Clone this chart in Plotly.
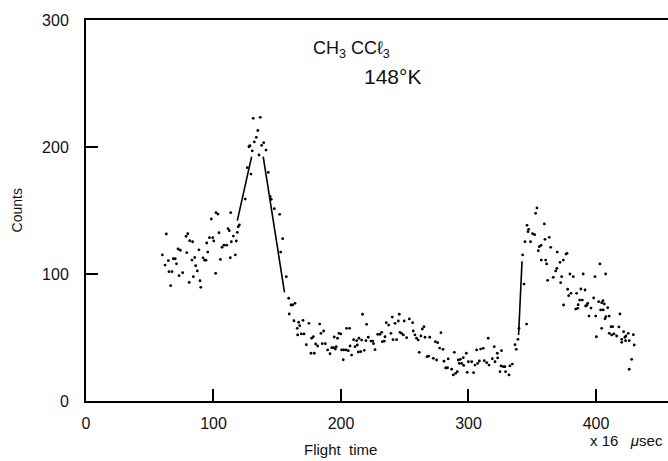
import plotly.graph_objects as go

# ---- data ----
x_pts = [59.9, 62, 63, 64.6, 65.1, 66.4, 67.5, 68.5, 70, 71, 72.2, 73, 74, 75.8, 78.5, 79, 79.8, 81, 81.3,
         83.1, 83.6, 84.2, 85.3, 86, 87.3, 88.6, 89.4, 90, 91.8, 93.1, 94.1, 94.7, 95.5, 96.8, 98.3, 99.4,
         100.2, 101.7, 102, 103.5, 104.3, 105.4, 106.7, 108.2, 110.3, 111.4, 112.4, 113.2, 113.5, 114,
         115.6, 117.1, 117.9, 118.7, 119.4, 120.3, 124.9, 126.5, 127.8, 128.6, 129.4, 130.4, 131.2, 132,
         133.6, 134.8, 135.7, 136.7, 137.8, 139.4, 141.2, 143, 144.5, 145.3, 147.7, 151.9, 152.7, 154.3,
         157.1, 159, 159.4, 160.8, 162.1, 163.1, 163.9, 165.7, 166, 166.8, 167.6, 168.9, 170.2, 171, 172.8,
         174.9, 176.5, 177, 178.3, 179.1, 180.1, 181.7, 183.3, 184.3, 185.3, 186.4, 187.7, 189.5, 191.4,
         192.7, 194.3, 194.7, 195.6, 196.3, 197.3, 198.4, 199.8, 200.5, 201.8, 202.1, 203.9, 204.4, 205.7,
         206.8, 207.1, 208.3, 209.9, 211, 212.3, 212.8, 213.6, 214.1, 215.4, 216.2, 216.9, 218.3, 219.6,
         220.1, 221.4, 223.5, 224.9, 225.5, 226.7, 228.8, 230.6, 231.9, 232.4, 234, 234.5, 235.5, 237.4,
         239.2, 240.2, 240.8, 242.4, 243.6, 245, 245.7, 246.3, 247.5, 248.9, 249.6, 251.5, 253.6, 256.2,
         256.7, 258, 259.3, 260.6, 261.4, 262.7, 263.8, 265.1, 265.9, 267.5, 268.8, 269.6, 272.4, 274,
         275, 275.8, 277.4, 278.4, 280, 280.8, 282.1, 283.6, 284.1, 286.8, 288.1, 288.9, 289.9, 291.2,
         292, 292.8, 293.6, 294.7, 295.9, 296.2, 298.3, 299, 299.9, 302.5, 304, 305.1, 306.4, 307.2,
         308.5, 309.5, 311.6, 312.4, 314.3, 315.5, 316.1, 318.7, 320.2, 320.8, 322.6, 322.9, 324.7, 325.5,
         325.9, 327.3, 328.6, 329.1, 331.8, 332.5, 334.4, 336.5, 337.5, 338.8, 339.6, 342.5, 343.6, 344.3,
         345.6, 345.9, 346.7, 347.2, 348.7, 350.3, 351.9, 352.7, 353.7, 354.8, 355.5, 356.9, 357.1, 359.5,
         360.0, 360.5, 361.3, 362.1, 363.4, 364.5, 366.5, 368.4, 369.4, 369.6, 371.8, 372.3, 373.1, 374.4,
         374.6, 376.5, 377.3, 377.8, 378.6, 379.6, 380.4, 382.2, 384.1, 384.8, 385.6, 386, 387.2, 388.2,
         389.3, 390, 391.4, 391.9, 392.9, 393.5, 394.5, 396.1, 398.2, 399.2, 399.8, 400.3, 402.1, 403.1,
         403.7, 404.5, 404.5, 405.5, 405.7, 406.5, 407.1, 407.6, 407.8, 409.2, 410.4, 410.4, 411.8, 412.3,
         413.1, 414.1, 416.2, 418, 418.8, 420.2, 420.2, 421.7, 422.7, 423.2, 423.5, 425.3, 426.1, 426.1,
         428, 429.3, 430]
y_pts = [115, 107, 131.5, 110.5, 101.8, 90.8, 101.8, 112, 112, 108, 119.7, 98.7, 118.7, 101, 129.7, 116.8,
         131.7, 93.4, 126.2, 111, 125.4, 97.9, 113, 106.5, 102.4, 119, 94.7, 89.5, 112.7, 110.9, 110.9,
         124.4, 117.3, 128.6, 143.3, 128.6, 126, 100.5, 148.3, 147.2, 132.5, 111.5, 121, 122.7, 122.7,
         135.7, 134.1, 112.8, 148.3, 125.4, 129.9, 115, 126, 132.8, 137.3, 138.6, 159, 183.7, 200.2, 201,
         178.7, 197, 222.6, 204, 207.6, 213, 193.7, 223.4, 201.3, 203.4, 197.6, 180, 160.9, 158.8, 151.4,
         147, 117.3, 127.8, 97.9, 80.9, 68.5, 75.6, 75.6, 63.2, 76.9, 57.2, 52, 62, 59.3, 52.8, 63.5, 52.8,
         44.3, 61.2, 37.6, 49.4, 50.6, 37.6, 44.9, 43.3, 60.6, 53.3, 45.1, 55.1, 45.1, 40.2, 37.2, 42, 42,
         50.4, 40.9, 42.8, 49.4, 53.3, 52.8, 40.2, 32.5, 40.2, 40.2, 57.2, 39.6, 57.2, 43.3, 36.2, 48.3,
         42.8, 47.5, 44.1, 38.6, 49.4, 38.8, 48, 68.3, 39.9, 47.5, 60.4, 50.2, 47.2, 47.2, 45.1, 40.4,
         52.5, 52.5, 54.1, 46.7, 47.2, 50.6, 61.7, 59.8, 53.3, 66.1, 48.3, 61.2, 48.3, 63, 68.3, 54.1,
         53.3, 52, 63, 49.9, 64.6, 61.7, 55.1, 52, 49.4, 48, 38.3, 51.2, 56.7, 58.5, 50.2, 34.9, 35.4,
         50.2, 33.6, 46.7, 32.3, 45.9, 41.7, 53.8, 40.7, 31.3, 26, 26.2, 33.1, 25, 20.5, 38.3, 21.8, 23.1,
         32.3, 29.6, 32.8, 29.6, 34.1, 28, 37.6, 22.6, 30.9, 30.9, 22.3, 28.3, 40.2, 29.6, 31.5, 40.9,
         41.5, 31.7, 30.2, 49.4, 28.3, 33.3, 42.8, 30.9, 37.6, 33.9, 23.1, 27.6, 39.6, 27, 27, 23.1, 20.5,
         27.6, 29.1, 44.3, 40.7, 48.6, 57.2, 115, 92.1, 125.4, 60.6, 138.3, 133.3, 135.2, 125.4, 131.7,
         131, 147.8, 152, 118.3, 121.5, 122.6, 111, 139.4, 127.3, 111, 107.9, 95, 128.9, 121, 97.4, 102.4,
         104.5, 117.3, 109.2, 93.2, 97.9, 111, 75.6, 115.7, 116.3, 88, 82.9, 100, 84.8, 97.9, 72.4, 84.8,
         73, 75.8, 79.5, 88.2, 79.5, 100, 87.4, 74.8, 75.3, 76.9, 66.9, 73.2, 81.1, 97.9, 66.9, 50.6, 78.2,
         107.9, 71.7, 77.4, 57.2, 79, 71.7, 76.4, 64.8, 100, 66.4, 73.5, 66.9, 53.3, 58.5, 52, 58.5, 52.8,
         51.2, 58.3, 68.5, 48.6, 46.2, 54.6, 50.2, 47.5, 51.2, 53.3, 47.5, 25, 32.8, 52.2, 44.1]

# drawn line segments (None separates the segments)
line_x = [118.7, 129.9, None, 139.0, 155.7, None, 339.3, 340.8, 342.0]
line_y = [142.0, 192.4, None, 192.4, 85.6, None, 52.0, 80.0, 110.0]

x_ticks = [0, 100, 200, 300, 400]
y_ticks = [0, 100, 200, 300]

FONT = "Liberation Sans"
INK = "#111111"

fig = go.Figure()
fig.add_trace(go.Scatter(x=x_pts, y=y_pts, mode="markers",
                         marker=dict(size=2.8, color="black"),
                         showlegend=False, hoverinfo="skip"))
fig.add_trace(go.Scatter(x=line_x, y=line_y, mode="lines",
                         line=dict(color="black", width=1.6),
                         showlegend=False, hoverinfo="skip", connectgaps=False))

fig.update_layout(
    width=668, height=461,
    margin=dict(l=86, r=0, t=20, b=60),
    paper_bgcolor="white", plot_bgcolor="white",
    font=dict(family=FONT, color=INK, size=16),
    xaxis=dict(range=[0, 456.5], tickvals=x_ticks, ticktext=[str(v) for v in x_ticks],
               ticks="inside", ticklen=12, tickwidth=1.5, tickcolor="black",
               showline=True, linewidth=2, linecolor="black", mirror=True,
               showgrid=False, zeroline=False, ticklabelstandoff=7,
               tickfont=dict(family=FONT, size=16, color=INK)),
    yaxis=dict(range=[0, 300], tickvals=y_ticks, ticktext=[str(v) for v in y_ticks],
               ticks="inside", ticklen=12, tickwidth=1.5, tickcolor="black",
               showline=True, linewidth=2, linecolor="black", mirror=False,
               showgrid=False, zeroline=False, ticklabelstandoff=12,
               tickfont=dict(family=FONT, size=16, color=INK)),
    annotations=[
        dict(text="CH<sub>3</sub> CCℓ<sub>3</sub>", x=208.6, y=276.5, xref="x", yref="y",
             xanchor="center", yanchor="middle",
             showarrow=False, font=dict(family=FONT, size=18, color=INK)),
        dict(text="148°K", x=240.5, y=255.5, xref="x", yref="y",
             xanchor="center", yanchor="middle",
             showarrow=False, font=dict(family=FONT, size=21, color=INK)),
        dict(text="Counts", x=-0.1186, y=0.5, xref="paper", yref="paper", textangle=-90,
             xanchor="center", yanchor="middle",
             showarrow=False, font=dict(family=FONT, size=14, color=INK)),
        dict(text="Flight  time", x=200, y=-0.1286, xref="x", yref="paper",
             xanchor="center", yanchor="middle",
             showarrow=False, font=dict(family=FONT, size=15, color=INK)),
        dict(text="x 16   <i>μ</i>sec", x=0.995, y=-0.1045, xref="paper", yref="paper",
             xanchor="right", yanchor="middle",
             showarrow=False, font=dict(family=FONT, size=15, color=INK)),
    ],
)

fig.write_html("out.html", config={"displayModeBar": False},
               post_script="document.body.style.margin='0px';document.body.style.overflow='hidden';")
